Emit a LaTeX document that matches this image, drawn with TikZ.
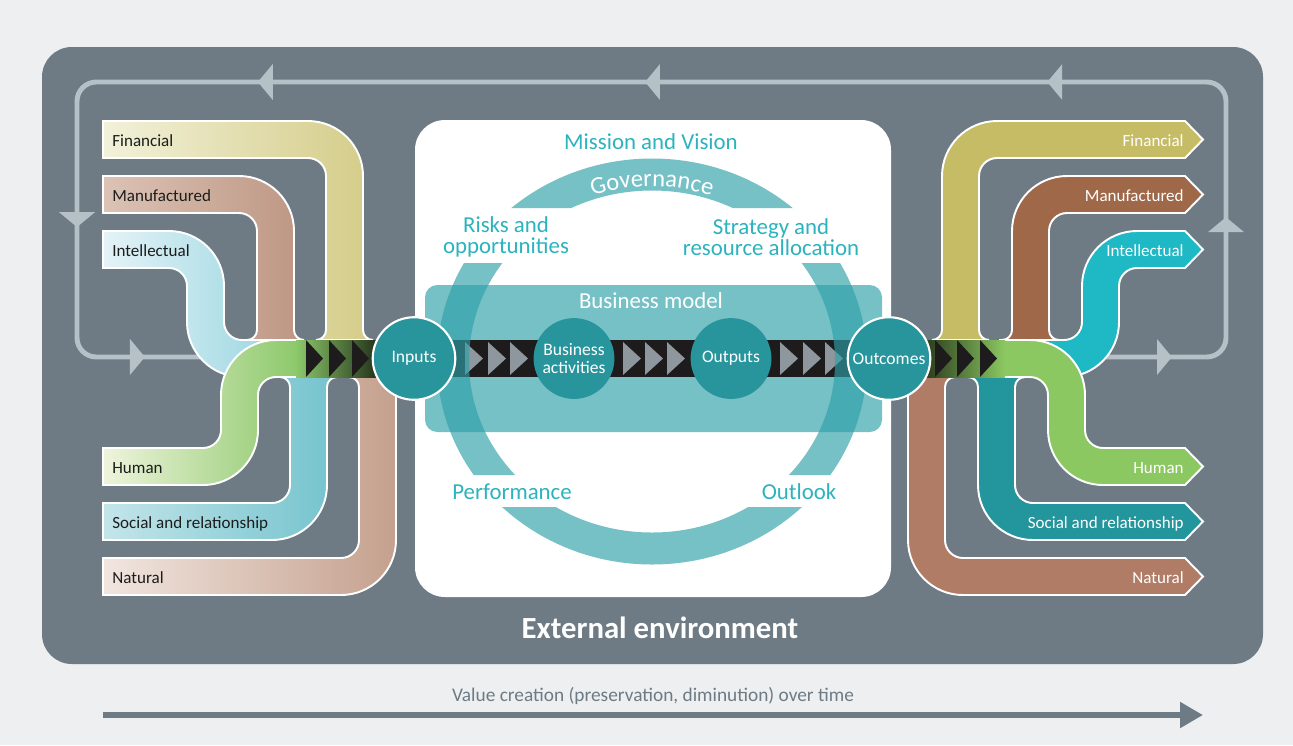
\documentclass[tikz,border=0pt]{standalone}
\usepackage{fontspec}
\setmainfont{Carlito}
\usetikzlibrary{arrows.meta,decorations.markings,decorations.text}

\definecolor{pagebg}{HTML}{EDEFF0}
\definecolor{panel}{HTML}{6E7B84}
\definecolor{loopline}{HTML}{B5C0C7}
\definecolor{tealtext}{HTML}{2CB3BE}
\definecolor{tealfill}{HTML}{2DA0A8}
\definecolor{circ}{HTML}{27959B}
\definecolor{bandblack}{HTML}{1D1B1C}
\definecolor{chevgray}{HTML}{8D979D}
\definecolor{labelink}{HTML}{1C1C1C}
% input capitals (pale to full)
\definecolor{finA}{HTML}{F2F1DA}\definecolor{finB}{HTML}{D4CC88}
\definecolor{manA}{HTML}{DCC3B5}\definecolor{manB}{HTML}{BD9683}
\definecolor{intA}{HTML}{E4F3F7}\definecolor{intB}{HTML}{93D3DF}
\definecolor{humA}{HTML}{EFF4DC}\definecolor{humB}{HTML}{8CC86A}
\definecolor{socA}{HTML}{C3E5EA}\definecolor{socB}{HTML}{74C3CD}
\definecolor{natA}{HTML}{F1E6E0}\definecolor{natB}{HTML}{C39E8B}
% outcome capitals
\definecolor{finR}{HTML}{C6BC66}
\definecolor{manR}{HTML}{9F6849}
\definecolor{intR}{HTML}{1FB8C5}
\definecolor{humR}{HTML}{8CC862}
\definecolor{socR}{HTML}{23959C}
\definecolor{natR}{HTML}{B07C66}

\tikzset{
  pipe/.style={draw=white, line width=1.1pt},
  inlabel/.style={anchor=base west, inner sep=0pt, text=labelink, font=\fontsize{9.7}{11}\selectfont},
  outlabel/.style={anchor=base east, inner sep=0pt, text=white, font=\fontsize{9.7}{11}\selectfont},
  bigcirc/.style={circle, fill=circ, minimum size=47pt, inner sep=0pt, text=white, align=center, font=\fontsize{10}{10.2}\selectfont},
  tealword/.style={text=tealtext, align=center, inner sep=0pt, font=\fontsize{13}{12}\selectfont},
  looptip/.tip={Triangle[width=20pt,length=8.5pt]}
}

\begin{document}
\begin{tikzpicture}[x=0.02cm, y=-0.02cm]

    \useasboundingbox (0,0) rectangle (1293,745);
    \fill[pagebg] (0,0) rectangle (1293,745);

    % External environment panel
    \fill[panel, rounded corners=17pt] (42,47) rectangle (1263,664);

    % Feedback loop
    \draw[loopline, line width=2.8pt, rounded corners=11pt,
        decoration={markings,
            mark=at position 0.0369 with {\arrow{looptip}},
            mark=at position 0.1321 with {\arrow{looptip}},
            mark=at position 0.2888 with {\arrow{looptip}},
            mark=at position 0.4951 with {\arrow{looptip}},
            mark=at position 0.6937 with {\arrow{looptip}},
            mark=at position 0.8566 with {\arrow{looptip}},
            mark=at position 0.9538 with {\arrow{looptip}}},
        postaction={decorate}]
        (1100,357) -- (1226,357) -- (1226,82) -- (77,82) -- (77,357) -- (235,357);

    % White box in the middle
    \fill[white, rounded corners=17pt] (415,120) rectangle (891,597);

    % Business model
    \fill[tealfill, opacity=.65, rounded corners=7pt] (425,285) rectangle (882,432);

    % Value chain band
    \fill[bandblack] (414,340) rectangle (889,377);
    \foreach \x in {465,488,510,623,645,667,780,803,825}
        \fill[chevgray] (\x,342) -- ++(18,16.5) -- ++(-18,16.5) -- cycle;

    % Ring, cut where the labels are
    \begin{scope}
        \clip (400,100) rectangle (900,208) (400,263) rectangle (900,475) (400,507) rectangle (900,600);
        \fill[tealfill, opacity=.65, even odd rule]
            (652,361.5) ellipse [x radius=215, y radius=203]
            (652,361.5) ellipse [x radius=183, y radius=171];
    \end{scope}
    \path[decorate, decoration={text along path, text align=center,
        text={|\fontsize{14}{14}\selectfont\color{white}|Governance}}]
        (567.1,205.6) arc[start angle=243, end angle=297, x radius=187, y radius=175];

    % Input capitals
    \draw[pipe, left color=finA, right color=finB]
        (103,121) -- (308,121) arc[start angle=-90, end angle=0, radius=55]
        -- (363,330) arc[start angle=180, end angle=90, radius=10]
        -- (316,340) arc[start angle=90, end angle=0, radius=10]
        -- (326,176) arc[start angle=0, end angle=-90, radius=18]
        -- (103,158) -- cycle;
    \draw[pipe, left color=manA, right color=manB]
        (103,176) -- (239,176) arc[start angle=-90, end angle=0, radius=55]
        -- (294,330) arc[start angle=180, end angle=90, radius=10]
        -- (247,340) arc[start angle=90, end angle=0, radius=10]
        -- (257,231) arc[start angle=0, end angle=-90, radius=18]
        -- (103,213) -- cycle;
    \draw[pipe, left color=socA, right color=socB]
        (103,503) -- (272,503) arc[start angle=90, end angle=0, radius=18]
        -- (290,387) arc[start angle=0, end angle=-90, radius=10]
        -- (337,377) arc[start angle=-90, end angle=-180, radius=10]
        -- (327,485) arc[start angle=0, end angle=90, radius=55]
        -- (103,540) -- cycle;
    \draw[pipe, left color=natA, right color=natB]
        (103,558) -- (341,558) arc[start angle=90, end angle=0, radius=18]
        -- (359,387) arc[start angle=0, end angle=-90, radius=10]
        -- (406,377) arc[start angle=-90, end angle=-180, radius=10]
        -- (396,540) arc[start angle=0, end angle=90, radius=55]
        -- (103,595) -- cycle;
    \draw[pipe, left color=intA, right color=intB]
        (103,231) -- (169,231) arc[start angle=-90, end angle=0, radius=55]
        -- (224,322) arc[start angle=180, end angle=90, radius=18]
        -- (300,340) -- (300,377) -- (242,377) arc[start angle=90, end angle=180, radius=55]
        -- (187,286) arc[start angle=0, end angle=-90, radius=18]
        -- (103,268) -- cycle;
    \draw[pipe, left color=humA, right color=humB]
        (103,448) -- (203,448) arc[start angle=90, end angle=0, radius=18]
        -- (221,395) arc[start angle=180, end angle=270, radius=55]
        -- (300,340) -- (300,377) -- (276,377) arc[start angle=270, end angle=180, radius=18]
        -- (258,430) arc[start angle=0, end angle=90, radius=55]
        -- (103,485) -- cycle;

    % Outcome capitals
    \draw[pipe, fill=finR]
        (932,340) arc[start angle=90, end angle=0, radius=10]
        -- (942,176) arc[start angle=180, end angle=270, radius=55]
        -- (1185,121) -- (1203,139.5) -- (1185,158)
        -- (997,158) arc[start angle=270, end angle=180, radius=18]
        -- (979,330) arc[start angle=180, end angle=90, radius=10] -- cycle;
    \draw[pipe, fill=manR]
        (1002,340) arc[start angle=90, end angle=0, radius=10]
        -- (1012,231) arc[start angle=180, end angle=270, radius=55]
        -- (1185,176) -- (1203,194.5) -- (1185,213)
        -- (1067,213) arc[start angle=270, end angle=180, radius=18]
        -- (1049,330) arc[start angle=180, end angle=90, radius=10] -- cycle;
    \draw[pipe, fill=socR]
        (968,377) arc[start angle=-90, end angle=0, radius=10]
        -- (978,485) arc[start angle=180, end angle=90, radius=55]
        -- (1185,540) -- (1203,521.5) -- (1185,503)
        -- (1033,503) arc[start angle=90, end angle=180, radius=18]
        -- (1015,387) arc[start angle=180, end angle=270, radius=10] -- cycle;
    \draw[pipe, fill=natR]
        (898,377) arc[start angle=-90, end angle=0, radius=10]
        -- (908,540) arc[start angle=180, end angle=90, radius=55]
        -- (1185,595) -- (1203,576.5) -- (1185,558)
        -- (963,558) arc[start angle=90, end angle=180, radius=18]
        -- (945,387) arc[start angle=180, end angle=270, radius=10] -- cycle;
    \draw[pipe, fill=intR]
        (1000,340) -- (1064,340) arc[start angle=90, end angle=0, radius=18]
        -- (1082,286) arc[start angle=180, end angle=270, radius=55]
        -- (1185,231) -- (1203,249.5) -- (1185,268)
        -- (1137,268) arc[start angle=270, end angle=180, radius=18]
        -- (1119,322) arc[start angle=0, end angle=90, radius=55]
        -- (1000,377) -- cycle;
    \draw[pipe, fill=humR]
        (1000,340) -- (1030,340) arc[start angle=270, end angle=360, radius=55]
        -- (1085,430) arc[start angle=180, end angle=90, radius=18]
        -- (1185,448) -- (1203,466.5) -- (1185,485)
        -- (1103,485) arc[start angle=90, end angle=180, radius=55]
        -- (1048,395) arc[start angle=0, end angle=-90, radius=18]
        -- (1000,377) -- cycle;

    % Chevrons in and out
    \fill[left color=humB, right color=black!75!humB] (296,340) rectangle (378,377);
    \fill[left color=black!70!humR, right color=humR] (925,340) rectangle (1005,377);
    \foreach \x in {306,329,352,935,957,980}
        \fill[bandblack] (\x,340) -- ++(17,18.5) -- ++(-17,18.5) -- cycle;

    % Circles
    \node[bigcirc, draw=white, line width=1.2pt] (inputs) at (414,358.5) {Inputs};
    \node[bigcirc, minimum size=46pt] (activities) at (574,358.5) {Business\\activities};
    \node[bigcirc, minimum size=46pt] (outputs) at (731,358.5) {Outputs};
    \node[bigcirc, draw=white, line width=1.2pt] (outcomes) at (889,358.5) {Outcomes};

    % Texts in the white box
    \node[tealword, anchor=base] (mission) at (651,149) {Mission and Vision};
    \node[tealword] (risks) at (506,237) {Risks and\\opportunities};
    \node[tealword] (strategy) at (771,237) {Strategy and\\resource allocation};
    \node[tealword, anchor=base] (performance) at (512,499) {Performance};
    \node[tealword, anchor=base] (outlook) at (799,499) {Outlook};
    \node[anchor=base, inner sep=0pt, text=white, font=\fontsize{13}{13}\selectfont] (bmodel) at (651,308) {Business model};

    % Capital labels
    \node[inlabel] (finIn) at (112,146) {Financial};
    \node[inlabel] (manIn) at (112,201) {Manufactured};
    \node[inlabel] (intIn) at (112,256) {Intellectual};
    \node[inlabel] (humIn) at (112,473) {Human};
    \node[inlabel] (socIn) at (112,528) {Social and relationship};
    \node[inlabel] (natIn) at (112,583) {Natural};
    \node[outlabel] (finOut) at (1184,146) {Financial};
    \node[outlabel] (manOut) at (1184,201) {Manufactured};
    \node[outlabel] (intOut) at (1184,256) {Intellectual};
    \node[outlabel] (humOut) at (1184,473) {Human};
    \node[outlabel] (socOut) at (1184,528) {Social and relationship};
    \node[outlabel] (natOut) at (1184,583) {Natural};

    \node[text=white, font=\bfseries\fontsize{17.5}{18}\selectfont] (external) at (660,628) {External environment};

    % Time axis
    \coordinate (tstart) at (103,715);
    \coordinate (tend) at (1203,715);
    \draw[panel, line width=3.4pt, -{Triangle[width=14pt,length=13pt]}] (tstart) -- (tend);
    \node[text=panel, font=\fontsize{11}{11}\selectfont] (timelabel) at (653,696) {Value creation (preservation, diminution) over time};

\end{tikzpicture}
\end{document}
